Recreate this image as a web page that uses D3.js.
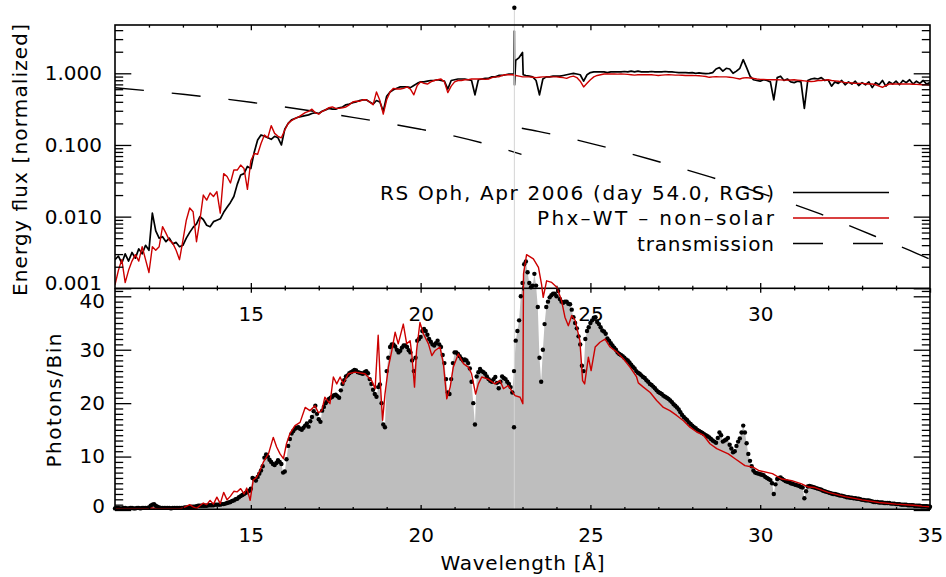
<!DOCTYPE html>
<html><head><meta charset="utf-8">
<script src="https://cdn.jsdelivr.net/npm/d3@7"></script>
<style>body{margin:0;background:#fff}svg{display:block}</style>
</head><body>
<svg id="c" width="946" height="577"></svg>
<script>
// ---------- DATA ----------
const gridStart = 11.0, gridStep = 0.1, gridCount = 241;   // wavelength grid 11.0 .. 35.0 A
// top panel: observed RGS energy flux (normalized)
const fluxObs = [
0.00251,0.00282,0.00224,0.00302,0.00240,0.00316,0.00263,0.00355,0.00302,0.00398,
0.00339,0.0112,0.00631,0.00501,0.00525,0.00447,0.00501,0.00417,0.00437,0.00380,
0.00398,0.00501,0.00603,0.00708,0.00794,0.0100,0.00912,0.00759,0.00724,0.00851,
0.00891,0.00933,0.0115,0.0135,0.0158,0.0191,0.0282,0.0380,0.0398,0.0501,
0.0468,0.0794,0.117,0.138,0.132,0.126,0.120,0.132,0.126,0.100,
0.166,0.200,0.224,0.234,0.245,0.251,0.257,0.263,0.275,0.282,
0.275,0.295,0.309,0.324,0.316,0.316,0.331,0.339,0.363,0.372,
0.389,0.398,0.417,0.427,0.427,0.398,0.372,0.417,0.398,0.295,
0.479,0.550,0.589,0.617,0.646,0.646,0.646,0.631,0.676,0.724,
0.759,0.759,0.776,0.794,0.794,0.813,0.794,0.776,0.603,0.794,
0.813,0.832,0.832,0.832,0.813,0.794,0.501,0.813,0.832,0.851,
0.851,0.891,0.891,0.933,0.933,0.955,0.977,0.977,1.51,1.66,
1.95,0.933,0.912,0.891,0.794,0.501,0.832,0.891,0.891,0.912,
0.912,0.912,0.933,0.955,0.977,1.000,0.977,0.955,0.776,0.955,
1.023,1.047,1.047,1.047,1.047,1.023,1.047,1.047,1.047,1.047,
1.059,1.047,1.072,1.047,1.072,1.047,1.047,1.047,1.059,1.047,
1.047,1.047,1.059,1.047,1.047,1.035,1.023,1.023,1.023,1.012,
1.023,1.000,1.012,1.000,0.989,1.000,1.023,1.148,1.202,1.072,
1.175,1.148,1.000,1.072,1.175,1.549,1.202,0.912,0.813,0.794,
0.776,0.813,0.794,0.759,0.427,0.871,0.912,0.794,0.832,0.759,
0.741,0.776,0.759,0.324,0.794,0.832,0.851,0.832,0.871,0.794,
0.813,0.661,0.759,0.724,0.794,0.692,0.759,0.708,0.776,0.676,
0.741,0.692,0.759,0.631,0.741,0.692,0.794,0.661,0.759,0.708,
0.776,0.692,0.794,0.741,0.813,0.708,0.776,0.724,0.794,0.708,
0.741];
// narrow feature near 22.76 A in the observed flux
const fluxSpikeWave = [22.75, 22.76, 22.765, 23.02];
const fluxSpikeVal  = [0.977, 3.89, 0.69, 0.955];
// top panel: Phx-WT non-solar model
const fluxModel = [
0.00112,0.00178,0.00251,0.00120,0.00178,0.00240,0.00295,0.00240,0.00380,0.00251,
0.00166,0.00380,0.00339,0.00380,0.00724,0.00589,0.00468,0.00427,0.00339,0.00251,
0.00468,0.00891,0.0132,0.0117,0.00447,0.00891,0.0200,0.0170,0.0214,0.0191,
0.0224,0.0112,0.0398,0.0363,0.0295,0.0447,0.0447,0.0525,0.0468,0.0240,
0.0603,0.0759,0.0741,0.105,0.138,0.126,0.186,0.145,0.132,0.126,
0.162,0.200,0.219,0.234,0.245,0.263,0.282,0.295,0.316,0.282,
0.269,0.295,0.309,0.331,0.339,0.324,0.324,0.331,0.339,0.363,
0.398,0.407,0.407,0.427,0.427,0.398,0.363,0.550,0.417,0.269,
0.427,0.550,0.617,0.603,0.603,0.617,0.646,0.603,0.501,0.676,
0.759,0.724,0.708,0.759,0.794,0.813,0.832,0.759,0.537,0.661,
0.759,0.794,0.794,0.813,0.813,0.832,0.832,0.832,0.832,0.822,
0.832,0.871,0.891,0.891,0.933,0.955,0.955,0.955,0.933,0.912,
0.891,0.891,0.891,0.881,0.871,0.881,0.891,0.891,0.891,0.891,
0.891,0.881,0.871,0.851,0.891,0.912,0.871,0.776,0.646,0.724,
0.813,0.891,0.933,0.955,0.977,0.977,0.977,0.977,0.973,0.977,
0.973,0.966,0.955,0.944,0.955,0.955,0.955,0.959,0.955,0.944,
0.933,0.944,0.951,0.955,0.951,0.944,0.944,0.940,0.933,0.933,
0.933,0.929,0.923,0.912,0.902,0.879,0.891,0.895,0.891,0.891,
0.891,0.881,0.871,0.851,0.832,0.861,0.871,0.861,0.851,0.832,
0.822,0.822,0.817,0.813,0.813,0.813,0.809,0.803,0.803,0.807,
0.813,0.803,0.794,0.785,0.776,0.767,0.776,0.794,0.794,0.803,
0.813,0.794,0.785,0.776,0.759,0.741,0.741,0.733,0.724,0.724,
0.724,0.716,0.708,0.708,0.692,0.661,0.638,0.676,0.708,0.708,
0.708,0.708,0.708,0.708,0.708,0.705,0.700,0.697,0.692,0.692,
0.684];
// ISM transmission (below and above the O K edge)
const transWave = [11.0,12.0,13.0,14.0,15.0,16.0,17.0,18.0,19.0,20.0,21.0,22.0,22.97,22.98,23.46,25.12,26.81,28.55,30.19,31.77,33.40,34.60,35.0];
const transVal  = [0.630,0.569,0.509,0.452,0.394,0.339,0.288,0.243,0.202,0.166,0.133,0.101,0.0741,0.171,0.155,0.102,0.0621,0.0355,0.0200,0.0109,0.00528,0.00308,0.00254];
const transEdgeIndex = 13;
// bottom panel: observed photons per bin, on the 0.1 A grid ...
const countsObs = [
0.3,0.4,0.3,0.4,0.3,0.4,0.3,0.4,0.4,0.4,
0.5,1.0,0.8,0.5,0.4,0.4,0.4,0.4,0.4,0.4,
0.4,0.5,0.5,0.6,0.7,0.8,0.8,0.8,0.9,0.9,
1.0,1.0,1.1,1.3,1.5,1.8,2.1,2.6,3.0,3.4,
4.0,5.8,6.2,7.4,9.8,10.0,9.0,8.4,9.3,8.6,
7.2,12.0,14.3,15.2,15.5,15.0,15.8,15.6,17.4,19.5,
17.0,18.6,20.0,20.8,21.2,21.6,21.0,23.6,25.0,25.6,
26.0,26.1,25.7,25.5,26.0,24.5,22.5,21.2,23.5,16.0,
26.0,30.5,31.0,30.0,29.8,30.8,30.5,29.5,26.0,31.7,
32.4,33.9,32.8,31.5,30.8,31.7,30.5,27.5,22.0,24.5,
29.5,29.2,28.3,28.2,27.5,24.0,16.0,25.8,26.0,25.5,
24.5,24.0,24.9,22.8,25.0,24.5,23.6,22.0,31.7,35.5,
42.5,46.5,42.5,42.0,42.0,28.5,30.0,38.0,39.8,40.5,
40.0,39.5,38.8,39.0,38.5,36.1,34.0,31.0,26.0,33.5,
35.0,36.0,35.2,34.2,33.4,32.1,31.2,30.4,29.5,29.0,
28.5,28.0,27.2,26.5,25.7,25.2,24.7,24.0,23.4,22.8,
22.1,21.7,21.2,20.8,20.2,19.5,18.8,17.8,17.1,16.4,
15.8,15.3,14.8,14.4,14.0,13.6,13.0,12.6,14.5,12.8,
13.2,12.2,10.8,12.0,13.4,15.8,12.5,9.2,7.4,6.9,
6.7,6.5,6.0,5.6,3.0,5.8,6.1,5.6,5.3,5.0,
4.8,4.6,4.3,2.2,4.4,4.4,4.2,4.0,3.8,3.5,
3.3,3.1,3.0,2.8,2.7,2.5,2.4,2.3,2.2,2.1,
1.9,1.8,1.8,1.6,1.5,1.4,1.4,1.3,1.3,1.2,
1.1,1.1,1.0,1.0,0.9,0.9,0.8,0.8,0.7,0.7,
0.6];
// ... and on the half-step grid 11.05 .. 34.95 A
const countsObsHalf = [
0.4,0.3,0.4,0.3,0.4,0.3,0.4,0.3,0.4,0.4,
0.8,1.1,0.6,0.4,0.4,0.4,0.3,0.4,0.4,0.4,
0.5,0.5,0.6,0.6,0.8,0.8,0.8,0.9,0.9,1.0,
1.0,1.1,1.2,1.4,1.7,2.0,2.4,2.8,3.2,3.6,
6.0,5.5,6.8,8.2,10.4,9.4,8.6,8.8,9.0,7.0,
9.5,13.3,14.8,15.4,15.2,15.4,16.2,16.6,18.5,18.0,
16.5,19.3,20.4,21.0,21.5,21.3,22.4,24.3,25.2,25.8,
26.2,25.8,25.6,25.8,25.6,23.6,21.7,23.0,20.0,15.5,
28.5,31.0,30.6,29.5,30.4,30.8,29.9,28.0,28.5,32.0,
33.5,33.5,32.0,31.0,31.2,31.0,29.0,24.5,21.7,27.5,
29.5,28.8,28.0,28.0,26.5,20.0,25.0,26.4,25.8,25.0,
24.2,24.5,23.8,24.0,24.7,24.0,23.0,26.0,33.5,40.0,
46.0,44.5,41.7,44.2,38.0,24.0,34.8,39.0,40.2,40.5,
41.0,39.0,39.0,38.6,37.5,35.0,32.5,27.0,32.0,34.2,
35.5,36.1,34.8,33.6,33.0,31.7,30.8,30.0,29.2,28.8,
28.2,27.6,26.8,26.0,25.5,24.9,24.3,23.6,23.1,22.4,
21.9,21.4,21.0,20.5,19.8,19.2,18.3,17.4,16.8,16.1,
15.5,15.0,14.6,14.2,13.8,13.3,12.8,13.5,14.0,13.0,
13.5,11.5,11.0,12.8,14.5,14.5,10.5,8.2,7.0,6.8,
6.6,6.2,5.8,5.0,4.8,6.0,5.8,5.4,5.2,4.9,
4.7,4.5,4.2,3.5,4.5,4.3,4.1,3.9,3.6,3.4,
3.2,3.0,2.9,2.7,2.6,2.4,2.3,2.2,2.1,2.0,
1.9,1.8,1.7,1.5,1.5,1.4,1.3,1.3,1.2,1.2,
1.1,1.0,1.0,0.9,0.9,0.8,0.8,0.7,0.7,0.6];
const countSpikeWave = [22.75, 22.76];
const countSpikeVal  = [15.5, 94];
// bottom panel: model photons per bin
const modelWave = [11.0,12.0,12.1,12.2,12.9,13.0,13.1,13.2,13.3,13.4,13.5,13.6,13.7,13.8,13.9,14.0,14.1,14.2,14.3,14.4,14.5,14.6,14.7,14.8,14.88,14.98,
15.07,15.17,15.27,15.37,15.52,15.66,15.76,15.86,15.96,16.05,16.15,16.3,16.45,16.6,16.74,16.89,16.99,17.09,17.18,17.33,17.43,17.53,17.63,17.72,17.87,
18.07,18.36,18.56,18.66,18.75,18.82,18.88,18.95,19.05,19.15,19.25,19.34,19.49,19.59,19.69,19.74,19.82,19.88,19.98,20.08,20.23,20.33,20.42,20.57,20.67,
20.77,20.87,20.96,21.11,21.26,21.41,21.5,21.62,21.7,21.8,21.99,22.19,22.34,22.44,22.58,22.78,22.93,23.01,23.03,23.12,23.32,23.47,23.56,23.61,23.71,
23.86,24.01,24.15,24.25,24.35,24.45,24.55,24.69,24.77,24.83,24.94,25.02,25.14,25.28,25.43,25.58,25.77,25.97,26.17,26.36,26.41,26.56,26.76,26.95,27.15,
27.34,27.54,27.74,27.93,28.13,28.33,28.52,28.72,29.06,29.26,29.55,29.8,29.95,30.36,30.63,30.93,31.22,31.42,31.61,32.0,32.5,33.0,33.5,34.0,34.5,35.0];
const modelCounts = [0.2,0.2,0.4,0.2,0.2,0.4,0.7,1.0,0.6,0.3,0.8,1.3,1.0,1.8,1.1,2.4,1.2,3.3,1.9,2.6,3.5,3.4,4.0,3.0,4.1,1.8,
5.6,6.1,7.4,9.0,10.5,13.6,11.8,10.5,9.6,12.4,14.3,15.8,16.4,19.2,18.6,19.5,18.2,18.6,21.1,19.9,24.9,23.6,24.9,23.6,25.5,
25.8,25.5,24.2,22.7,32.7,23.0,16.8,21.7,26.7,29.8,33.3,31.1,34.8,31.1,31.7,29.2,23.0,29.8,35.1,33.0,31.1,28.9,29.8,30.5,27.4,
20.8,23.0,26.7,29.2,27.4,26.7,25.5,21.7,23.6,24.9,24.5,23.6,24.2,22.7,23.3,21.4,21.1,19.9,44.2,47.8,47.0,45.4,42.3,39.8,42.9,
42.6,41.7,39.2,36.1,34.5,36.4,35.5,31.7,24.2,23.6,28.6,26.1,30.5,31.4,32.0,30.5,29.6,28.3,26.7,24.9,23.8,23.0,22.0,20.5,19.2,
18.6,17.7,16.7,15.5,14.6,14.0,12.4,11.5,10.5,9.6,8.3,8.0,7.4,6.8,5.8,5.5,4.9,4.3,4.2,3.3,2.5,1.9,1.4,1.1,0.9,0.6];
// axis ticks and texts
const waveMajor = [15, 20, 25, 30];
const waveMajorBottom = [15, 20, 25, 30, 35];
const waveMinor = [12,13,14,16,17,18,19,21,22,23,24,26,27,28,29,31,32,33,34];
const fluxMajor = [0.001, 0.01, 0.1, 1];
const fluxMinor = [0.002,0.003,0.004,0.005,0.006,0.007,0.008,0.009,0.02,0.03,0.04,0.05,0.06,0.07,0.08,0.09,0.2,0.3,0.4,0.5,0.6,0.7,0.8,0.9,2,3,4];
const countMajor = [0, 10, 20, 30, 40];
const countMinor = [1,2,3,4,5,6,7,8,9,11,12,13,14,15,16,17,18,19,21,22,23,24,25,26,27,28,29,31,32,33,34,35,36,37,38,39,41];
const legendLabels = ["RS Oph, Apr 2006 (day 54.0, RGS)", "Phx\u2013WT \u2013 non\u2013solar", "transmission"];

// ---------- CHART ----------
const FONT = "'DejaVu Sans', sans-serif";
const RED = "#cc0000";
const svg = d3.select("#c");
const L = 115, R = 930, T = 25, MID = 288.3, B = 509.3;
const x = d3.scaleLinear().domain([11, 35]).range([L, R]);
const yTop = d3.scaleLog().domain([0.001, 4.72]).range([MID, T]);
const yBot = d3.scaleLinear().domain([0, 40]).range([510, 296.3]);

const grid = d3.range(gridCount).map(i => +(gridStart + i * gridStep).toFixed(2));
const halfGrid = d3.range(gridCount - 1).map(i => +(gridStart + gridStep / 2 + i * gridStep).toFixed(2));
const obsPts = grid.map((w, i) => [w, fluxObs[i]])
  .concat(fluxSpikeWave.map((w, i) => [w, fluxSpikeVal[i]]))
  .sort((a, b) => a[0] - b[0]);
const modPts = grid.map((w, i) => [w, fluxModel[i]]);
const trPts = transWave.map((w, i) => [w, transVal[i]]);
const cntPts = grid.map((w, i) => [w, countsObs[i]])
  .concat(halfGrid.map((w, i) => [w, countsObsHalf[i]]))
  .sort((a, b) => a[0] - b[0]);
const mcPts = modelWave.map((w, i) => [w, modelCounts[i]]);

svg.append("defs").append("clipPath").attr("id", "topclip")
  .append("rect").attr("x", L).attr("y", T).attr("width", R - L).attr("height", MID - T);

const topG = svg.append("g").attr("clip-path", "url(#topclip)");
const lineTop = d3.line().x(d => x(d[0])).y(d => yTop(d[1]));
const trLine = d3.line().x(d => x(d[0])).y(d => yTop(d[1])).curve(d3.curveMonotoneX);
[trPts.slice(0, transEdgeIndex), trPts.slice(transEdgeIndex)].forEach(seg => {
  topG.append("path").attr("d", trLine(seg))
    .attr("fill", "none").attr("stroke", "#000").attr("stroke-width", 1.4).attr("stroke-dasharray", "29,28");
});
topG.append("path").attr("d", lineTop(obsPts)).attr("fill", "none").attr("stroke", "#000").attr("stroke-width", 1.7).attr("stroke-linejoin", "round");
topG.append("path").attr("d", lineTop(modPts)).attr("fill", "none").attr("stroke", RED).attr("stroke-width", 1.4).attr("stroke-linejoin", "round");

// bottom grey histogram fill
svg.append("path").attr("d", d3.area().x(d => x(d[0])).y0(yBot(0)).y1(d => yBot(d[1]))(cntPts))
  .attr("fill", "#bebebe").attr("stroke", "none");
svg.append("line").attr("x1", x(countSpikeWave[1])).attr("x2", x(countSpikeWave[1]))
  .attr("y1", yBot(0)).attr("y2", yBot(countSpikeVal[1])).attr("stroke", "#d4d4d4").attr("stroke-width", 1);

function styleAxis(g) {
  g.select(".domain").remove();
  g.attr("font-family", FONT).attr("font-size", 20);
  g.selectAll("line").attr("stroke", "#000").attr("stroke-width", 1.3);
  g.selectAll("text").attr("fill", "#000");
  return g;
}
function addAxis(gen, tx, ty) {
  return styleAxis(svg.append("g").attr("transform", `translate(${tx},${ty})`).call(gen));
}
// top panel axes
const topLeft = addAxis(d3.axisLeft(yTop).tickValues(fluxMajor).tickSize(-16.3).tickPadding(13).tickFormat(d3.format(".3f")), L, 0);
topLeft.selectAll(".tick").filter(d => d === 0.001).select("text").attr("y", -5);
addAxis(d3.axisLeft(yTop).tickValues(fluxMinor).tickSize(-8.2).tickFormat(""), L, 0);
addAxis(d3.axisRight(yTop).tickValues(fluxMajor).tickSize(-16.3).tickFormat(""), R, 0);
addAxis(d3.axisRight(yTop).tickValues(fluxMinor).tickSize(-8.2).tickFormat(""), R, 0);
addAxis(d3.axisTop(x).tickValues(waveMajor).tickSize(-5.3).tickFormat(""), 0, T);
addAxis(d3.axisTop(x).tickValues(waveMinor).tickSize(-2.6).tickFormat(""), 0, T);
addAxis(d3.axisBottom(x).tickValues(waveMajor).tickSize(-5.3).tickPadding(18.5).tickFormat(d3.format("d")), 0, MID);
addAxis(d3.axisBottom(x).tickValues(waveMinor).tickSize(-2.6).tickFormat(""), 0, MID);
svg.append("rect").attr("x", L).attr("y", T).attr("width", R - L).attr("height", MID - T)
  .attr("fill", "none").attr("stroke", "#000").attr("stroke-width", 1.6);

// bottom panel dots and model
svg.append("g").selectAll("circle")
  .data(cntPts.concat(countSpikeWave.map((w, i) => [w, countSpikeVal[i]])))
  .join("circle").attr("cx", d => x(d[0])).attr("cy", d => yBot(d[1])).attr("r", 2.2).attr("fill", "#000");
svg.append("path").attr("d", d3.line().x(d => x(d[0])).y(d => yBot(d[1]))(mcPts))
  .attr("fill", "none").attr("stroke", RED).attr("stroke-width", 1.4).attr("stroke-linejoin", "round");

// bottom panel axes
const botLeft = addAxis(d3.axisLeft(yBot).tickValues(countMajor).tickSize(-16.3).tickPadding(10).tickFormat(d3.format("d")), L, 0);
botLeft.selectAll(".tick").filter(d => d === 40).select("text").attr("y", 5);
botLeft.selectAll(".tick").filter(d => d === 0).select("text").attr("y", -4);
addAxis(d3.axisLeft(yBot).tickValues(countMinor).tickSize(-8.2).tickFormat(""), L, 0);
addAxis(d3.axisRight(yBot).tickValues(countMajor).tickSize(-16.3).tickFormat(""), R, 0);
addAxis(d3.axisRight(yBot).tickValues(countMinor).tickSize(-8.2).tickFormat(""), R, 0);
addAxis(d3.axisTop(x).tickValues(waveMajorBottom).tickSize(-4.4).tickFormat(""), 0, MID);
addAxis(d3.axisTop(x).tickValues(waveMinor).tickSize(-2.2).tickFormat(""), 0, MID);
addAxis(d3.axisBottom(x).tickValues(waveMajorBottom).tickSize(-4.4).tickPadding(19).tickFormat(d3.format("d")), 0, B);
addAxis(d3.axisBottom(x).tickValues(waveMinor).tickSize(-2.2).tickFormat(""), 0, B);
svg.append("path").attr("d", `M${L},${MID}V${B}H${R}V${MID}`)
  .attr("fill", "none").attr("stroke", "#000").attr("stroke-width", 1.6);

// axis titles
const txt = (s, tx, ty, opts = {}) => {
  const t = svg.append("text").text(s).attr("font-family", FONT).attr("font-size", 20)
    .attr("fill", "#000").attr("text-anchor", opts.anchor || "middle")
    .attr("transform", `translate(${tx},${ty})` + (opts.rot ? ` rotate(${opts.rot})` : ""));
  if (opts.len) t.attr("textLength", opts.len).attr("lengthAdjust", "spacing");
  return t;
};
txt("Energy flux [normalized]", 27, 160, {rot: -90, len: 272});
txt("Photons/Bin", 61, 400.5, {rot: -90, len: 134});
txt("Wavelength [\u00C5]", (L + R) / 2, 570, {len: 164});

// legend
const legY = [199.5, 225, 250.5];
const legLen = [394, 237, 137];
legendLabels.forEach((s, i) => txt(s, 774, legY[i], {anchor: "end", len: legLen[i]}));
const legStyles = [{c: "#000", d: null}, {c: RED, d: null}, {c: "#000", d: "30,30"}];
legStyles.forEach((st, i) => {
  const ln = svg.append("line").attr("x1", 793).attr("x2", 889).attr("y1", legY[i] - 7).attr("y2", legY[i] - 7)
    .attr("stroke", st.c).attr("stroke-width", 1.5);
  if (st.d) ln.attr("stroke-dasharray", st.d);
});
</script>
</body></html>
